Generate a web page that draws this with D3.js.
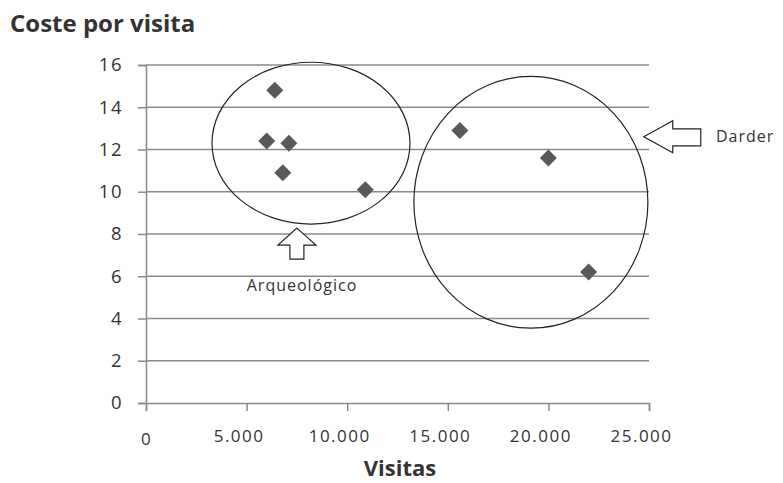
<!DOCTYPE html>
<html><head><meta charset="utf-8">
<script src="https://cdn.jsdelivr.net/npm/d3@7"></script>
<style>html,body{margin:0;padding:0;background:#fff;}svg{display:block;}</style>
</head><body>
<script>
const visitas = [6400, 6000, 7100, 6800, 10900, 15600, 20000, 22000];
const coste   = [14.8, 12.4, 12.3, 10.9, 10.1, 12.9, 11.6, 6.2];
const xTicks = [0, 5000, 10000, 15000, 20000, 25000];
const xTickLabels = ["0", "5.000", "10.000", "15.000", "20.000", "25.000"];
const yTicks = [0, 2, 4, 6, 8, 10, 12, 14, 16];
const groupNames = ["Arqueológico", "Darder"];
// annotation ellipses in data units: [cx, cy, rx, ry]
const groupEllipses = [[8200, 12.3, 4920, 3.83], [19130, 9.5, 5815, 5.96]];

const W = 783, H = 483;
const svg = d3.select("body").append("svg").attr("width", W).attr("height", H);
const x = d3.scaleLinear().domain([0, 25000]).range([146, 649]);
const y = d3.scaleLinear().domain([0, 16]).range([403, 65]);
const font = "'Open Sans', sans-serif";
const gridC = "#8a8a8a";
const txtC = "#333";

// gridlines
svg.append("g").selectAll("line").data(yTicks.filter(d => d > 0)).join("line")
  .attr("x1", x(0)).attr("x2", x(25000)).attr("y1", d => y(d)).attr("y2", d => y(d))
  .attr("stroke", gridC).attr("stroke-width", 1.5);

// y axis
const yAxis = svg.append("g").attr("transform", `translate(${x(0)},0)`)
  .call(d3.axisLeft(y).tickValues(yTicks).tickSize(8).tickPadding(15).tickFormat(d3.format("d")));
yAxis.select(".domain").attr("stroke", gridC).attr("stroke-width", 1.5);
yAxis.selectAll(".tick line").attr("stroke", gridC).attr("stroke-width", 1.5);
yAxis.selectAll("text").attr("font-family", font).attr("font-size", 18.5).attr("letter-spacing", 1.5).attr("fill", txtC);

// x axis
const xAxis = svg.append("g").attr("transform", `translate(0,${y(0)})`)
  .call(d3.axisBottom(x).tickValues(xTicks).tickSize(8).tickPadding(20).tickFormat((d, i) => xTickLabels[i]));
xAxis.select(".domain").attr("stroke", gridC).attr("stroke-width", 1.5);
xAxis.selectAll(".tick line").attr("stroke", gridC).attr("stroke-width", 1.5);
xAxis.selectAll("text").attr("font-family", font).attr("font-size", 17).attr("letter-spacing", 1.5).attr("fill", txtC)
  .attr("dx", (d, i) => i === 0 ? 0 : -8).attr("dy", (d, i) => i === 0 ? "0.85em" : "0.65em");

// points
svg.append("g").selectAll("path").data(visitas.map((v, i) => [v, coste[i]])).join("path")
  .attr("transform", d => `translate(${x(d[0])},${y(d[1])})`)
  .attr("d", "M0,-8.5L8.5,0L0,8.5L-8.5,0Z").attr("fill", "#595959");

// ellipses
svg.append("g").selectAll("ellipse").data(groupEllipses).join("ellipse")
  .attr("cx", d => x(d[0])).attr("cy", d => y(d[1]))
  .attr("rx", d => x(d[2]) - x(0)).attr("ry", d => y(0) - y(d[3]))
  .attr("fill", "none").attr("stroke", "#222").attr("stroke-width", 1.2);

// arrows
svg.append("path").attr("transform", `translate(${x(7500)},${y(8.28)})`)
  .attr("d", "M0,0L19,17L7,17L7,31L-7,31L-7,17L-19,17Z")
  .attr("fill", "#fff").attr("stroke", "#222").attr("stroke-width", 1.2);
svg.append("path").attr("transform", `translate(${x(24740)},${y(12.6)})`)
  .attr("d", "M0,0L29,-16L29,-8L57,-8L57,9L29,9L29,16Z")
  .attr("fill", "#fff").attr("stroke", "#222").attr("stroke-width", 1.2);

// annotation labels
svg.append("text").attr("x", 302).attr("y", y(6.0)).attr("dy", "0.95em")
  .attr("text-anchor", "middle").attr("font-family", font).attr("font-size", 16).attr("letter-spacing", 1).attr("fill", txtC)
  .text(groupNames[0]);
svg.append("text").attr("x", 716).attr("y", y(12.6)).attr("dy", "0.35em")
  .attr("font-family", font).attr("font-size", 16).attr("letter-spacing", 1).attr("fill", txtC).text(groupNames[1]);

// titles
svg.append("text").attr("x", 10).attr("y", 32).attr("font-family", font).attr("font-weight", "bold")
  .attr("font-size", 24).attr("fill", txtC).text("Coste por visita");
svg.append("text").attr("x", 400).attr("y", 476).attr("text-anchor", "middle").attr("font-family", font)
  .attr("font-weight", "bold").attr("font-size", 22).attr("fill", txtC).text("Visitas");
</script>
</body></html>
